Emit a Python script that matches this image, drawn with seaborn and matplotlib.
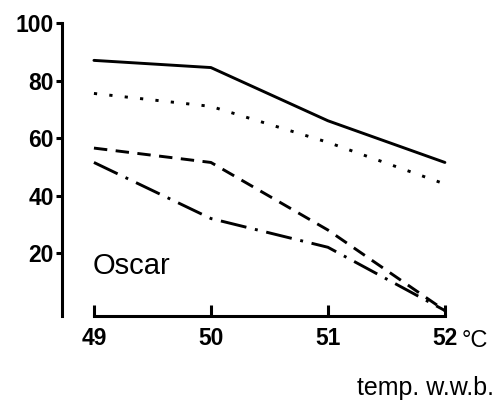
import matplotlib
matplotlib.use("Agg")
import matplotlib.pyplot as plt
import seaborn as sns

# values
temps = [49, 50, 51, 52]
solid = [87, 84.5, 66, 51.5]
dotted = [75.5, 71, 58.5, 44]
dashed = [56.5, 51.5, 28, 0]
dashdot = [51.5, 32, 22, 0]
x_ticks = [49, 50, 51, 52]
y_ticks = [20, 40, 60, 80, 100]

sns.set_style("white")
plt.rcParams["font.family"] = ["Liberation Sans", "DejaVu Sans"]
plt.rcParams["text.color"] = "black"

fig = plt.figure(figsize=(4.94, 4.04), dpi=100)
ax = fig.add_axes([62 / 494, 88 / 404, 418 / 494, 293 / 404])

styles = [
    (solid, "-"),
    (dotted, (0, (1.1, 4.2))),
    (dashed, (0, (4.6, 2.9))),
    (dashdot, (0, (9, 3, 1, 3))),
]
for vals, ls in styles:
    sns.lineplot(x=temps, y=vals, ax=ax, color="black", linewidth=2.1, linestyle=ls)

ax.set_xlim(48.727, 52.3)
ax.set_ylim(-1.9, 100)

for s in ["top", "right"]:
    ax.spines[s].set_visible(False)
for s in ["left", "bottom"]:
    ax.spines[s].set_linewidth(2.2)
    ax.spines[s].set_color("black")
ax.spines["bottom"].set_bounds(49, 52)

ax.set_xticks(x_ticks)
ax.set_xticklabels([str(t) for t in x_ticks])
ax.set_yticks(y_ticks)
ax.set_yticklabels([str(t) for t in y_ticks])
ax.tick_params(axis="x", bottom=True, direction="in", length=8, width=2.2, pad=8,
               labelsize=16.5, colors="black")
ax.tick_params(axis="y", left=True, direction="out", length=4, width=2.2, pad=2,
               labelsize=16.5, colors="black")
for lab in ax.get_xticklabels() + ax.get_yticklabels():
    lab.set_fontweight("bold")

ax.annotate("°C", xy=(52, 0), xycoords=("data", "axes fraction"),
            xytext=(12, -10), textcoords="offset points",
            fontsize=17, ha="left", va="top")
ax.text(48.99, 15.5, "Oscar", fontsize=21, ha="left", va="center")
fig.text(357 / 494, 1 - 388 / 404, "temp. w.w.b.", fontsize=18,
         ha="left", va="center")

ax.set_xlabel("")
ax.set_ylabel("")

fig.savefig("out.png", dpi=100)
